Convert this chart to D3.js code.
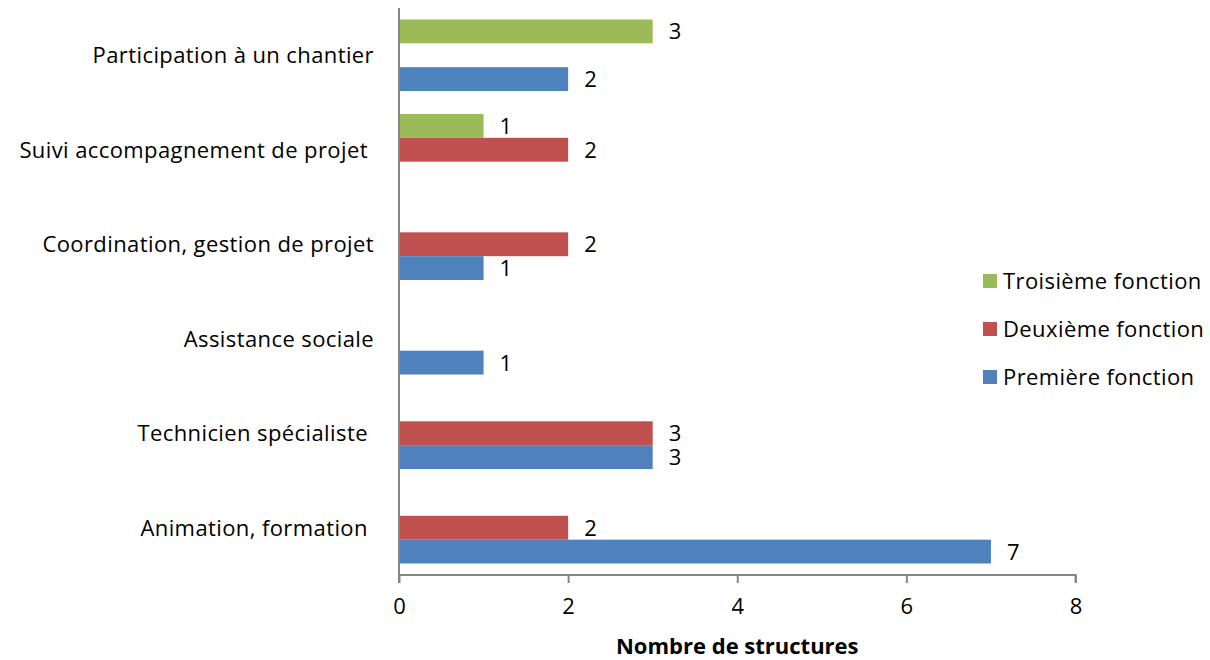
<!DOCTYPE html>
<html><head><meta charset="utf-8">
<script src="https://cdn.jsdelivr.net/npm/d3@7"></script>
<style>body{margin:0;background:#fff}svg text{font-family:"Open Sans",sans-serif;white-space:pre}</style>
</head><body><svg id="c" width="1210" height="660"></svg>
<script>
const categories = ["Participation à un chantier", "Suivi accompagnement de projet ", "Coordination, gestion de projet", "Assistance sociale", "Technicien spécialiste ", "Animation, formation "];
const premiere = [2, null, 1, 1, 3, 7];
const deuxieme = [null, 2, 2, null, 3, 2];
const troisieme = [3, 1, null, null, null, null];
const seriesNames = ["Troisième fonction", "Deuxième fonction", "Première fonction"];
const xTicks = [0, 2, 4, 6, 8];
const colors = {"Première fonction": "#4F81BD", "Deuxième fonction": "#C0504D", "Troisième fonction": "#9BBB59"};
const seriesVals = {"Première fonction": premiere, "Deuxième fonction": deuxieme, "Troisième fonction": troisieme};

(function(){
const FS = 22, LS = "0.4px";
const svg = d3.select("#c");
const pLeft = 399, pRight = 1075.5, pTop = 8, pBottom = 575;
const x = d3.scaleLinear().domain([0, 8]).range([pLeft, pRight]);
const y = d3.scaleBand().domain(categories).range([pTop, pBottom]).padding(0);
const inner = d3.scaleBand().domain(seriesNames).range([0, y.bandwidth()]).paddingInner(0).paddingOuter(0.481);

const g = svg.append("g");
seriesNames.forEach(s => {
  categories.forEach((c, i) => {
    const v = seriesVals[s][i];
    if (v == null) return;
    const yy = y(c) + inner(s);
    g.append("rect").attr("x", x(0)).attr("y", yy).attr("width", x(v) - x(0)).attr("height", inner.bandwidth()).attr("fill", colors[s]);
    g.append("text").attr("x", x(v) + 16).attr("y", yy + inner.bandwidth() / 2).attr("dy", "0.36em").attr("font-size", FS).attr("fill", "#000").text(v);
  });
});

const ax = svg.append("g").attr("transform", `translate(0,${pBottom})`)
  .call(d3.axisBottom(x).tickValues(xTicks).tickSize(8).tickPadding(15).tickFormat(d3.format("d")));
ax.select(".domain").attr("stroke", "#868686").attr("stroke-width", 2).attr("d", `M${pLeft},8V0H${pRight}V8`);
ax.selectAll(".tick line").attr("stroke", "#868686").attr("stroke-width", 2);
ax.selectAll(".tick text").attr("font-size", FS).attr("fill", "#000").style("font-family", "'Open Sans', sans-serif");

svg.append("line").attr("x1", pLeft).attr("x2", pLeft).attr("y1", pTop).attr("y2", pBottom).attr("stroke", "#868686").attr("stroke-width", 2);

svg.append("g").selectAll("text").data(categories).join("text")
  .attr("x", 374).attr("y", d => y(d) + y.bandwidth() / 2).attr("dy", "0.36em")
  .attr("text-anchor", "end").attr("font-size", FS).attr("letter-spacing", LS).attr("fill", "#000").text(d => d);

svg.append("text").attr("x", (pLeft + pRight) / 2).attr("y", 654).attr("text-anchor", "middle")
  .attr("font-size", FS).attr("font-weight", "bold").attr("fill", "#000").text("Nombre de structures");

const lg = svg.append("g");
seriesNames.forEach((s, i) => {
  const cy = 281 + i * 48;
  lg.append("rect").attr("x", 983).attr("y", cy - 7).attr("width", 14).attr("height", 14).attr("fill", colors[s]);
  lg.append("text").attr("x", 1003).attr("y", cy).attr("dy", "0.36em").attr("font-size", FS).attr("letter-spacing", LS).attr("fill", "#000").text(s);
});
})();
</script></body></html>
